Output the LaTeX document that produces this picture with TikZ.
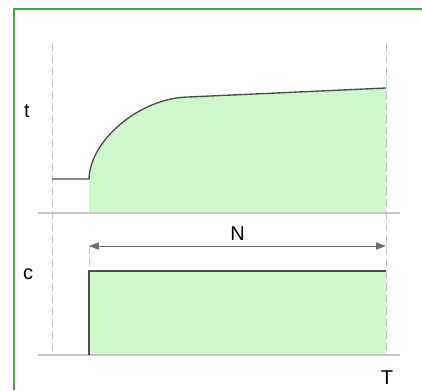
\documentclass[tikz,border=0pt]{standalone}
\usepackage{fontspec}
\setmainfont{Liberation Sans}
\usetikzlibrary{arrows.meta,positioning}
\definecolor{framegreen}{HTML}{3FAE3F}
\definecolor{areagreen}{HTML}{CCF8CC}
\definecolor{curvegray}{HTML}{4A4A4A}
\definecolor{guidegray}{HTML}{C4C4C4}
\tikzset{
  >={Triangle[length=2.6mm,width=1.9mm]},
  % rahmen und hilfslinien
  frame/.style={draw=framegreen,line width=1.6pt},
  guide/.style={draw=guidegray,line width=0.6pt,dash pattern=on 6pt off 3pt},
  axisline/.style={draw=guidegray,line width=0.8pt},
  % kurven
  curve/.style={draw=curvegray,line width=1pt},
  area/.style={fill=areagreen},
  dimline/.style={<->,draw=curvegray!80,line width=0.6pt},
  lbl/.style={font=\fontsize{15}{18}\selectfont,inner sep=1pt},
}
\begin{document}
\begin{tikzpicture}[x=0.75pt,y=-0.75pt]
  \path[use as bounding box] (0,0) rectangle (422,390);
  \draw[frame] (14,390) -- (14,9) -- (422,9);
  % stuetzpunkte
  \coordinate (l0) at (52,43);
  \coordinate (l1) at (52,355);
  \coordinate (r0) at (386,43);
  \coordinate (r1) at (386,355);
  \coordinate (s0) at (52,179);
  \coordinate (s1) at (89,179);
  \coordinate (k) at (188,97);
  \coordinate (e) at (386,88);
  \coordinate (m0) at (89,213);
  \coordinate (m1) at (386,213);
  \coordinate (n0) at (89,246);
  \coordinate (n1) at (386,246);
  \coordinate (c0) at (89,271);
  \coordinate (c1) at (386,271);
  \coordinate (b0) at (89,355);
  \coordinate (b1) at (386,355);
  % flaechen
  \fill[area] (m0) -- (s1) .. controls (90,140) and (140,98) .. (k) -- (e) -- (m1) -- cycle;
  \fill[area] (c0) rectangle (b1);
  % hilfslinien
  \draw[guide] (l0) -- (l1);
  \draw[guide] (r0) -- (r1);
  \draw[guide] (n0) -- (b0);
  \draw[axisline] (38,213) coordinate (a0) -- (400,213) coordinate (a1);
  \draw[axisline] (38,355) coordinate (z0) -- (400,355) coordinate (z1);
  % kurven
  \draw[curve] (s0) -- (s1) .. controls (90,140) and (140,98) .. (k) -- (e);
  \draw[curve] (b0) -- (c0) -- (c1);
  \draw[dimline] (n0) -- node[lbl,above=3pt]{N} (n1);
  % beschriftung
  \node[lbl] (tl) at (27,111) {t};
  \node[lbl] (cl) at (28,274) {c};
  \node[lbl] (Tl) at (387,378) {T};
\end{tikzpicture}
\end{document}
